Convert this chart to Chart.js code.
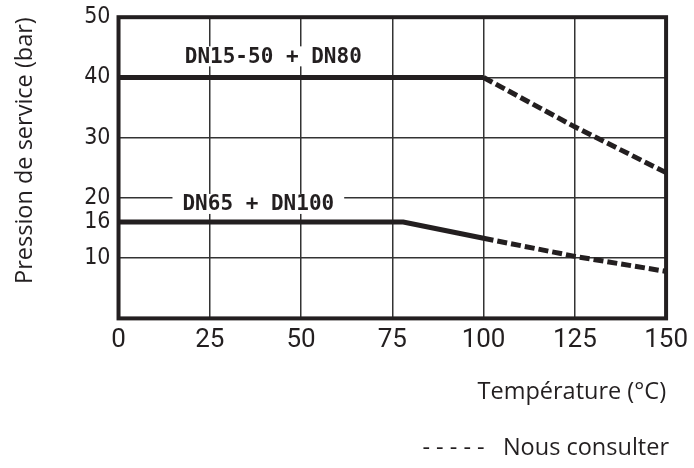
<!DOCTYPE html>
<html>
<head>
<meta charset="utf-8">
<script src="https://cdn.jsdelivr.net/npm/chart.js@4.4.1/dist/chart.umd.min.js"></script>
<style>
  html, body { margin: 0; padding: 0; background: #fff; }
  #wrap { width: 694px; height: 468px; }
</style>
</head>
<body>
<div id="wrap"><canvas id="chart"></canvas></div>
<script>
// temperature (°C) / pressure (bar)
const tempsDN15 = [0, 100, 125, 150];
const pressDN15 = [40, 40, 31.8, 24.2];
const tempsDN65 = [0, 78, 100, 125, 150];
const pressDN65 = [16, 16, 13.3, 10.3, 7.8];
const dashFrom = 100; // beyond this temperature: "Nous consulter"

const xTicks = [0, 25, 50, 75, 100, 125, 150];
const yTicks = [10, 16, 20, 30, 40, 50];

const labelDN15 = "DN15-50 + DN80";
const labelDN65 = "DN65 + DN100";

const ink = "#231f20";

function points(xs, ys) {
    return xs.map((x, i) => ({ x: x, y: ys[i] }));
}

// frame around the plot + the two curve names
const framePlugin = {
    id: "frame",
    beforeDatasetsDraw(chart) {
        const { ctx, chartArea: a, scales } = chart;
        ctx.save();
        ctx.strokeStyle = ink;
        ctx.lineWidth = 4;
        ctx.strokeRect(a.left, a.top, a.right - a.left, a.bottom - a.top);

        ctx.font = "bold 21px 'DejaVu Sans Mono'";
        ctx.textAlign = "center";
        ctx.textBaseline = "middle";
        [[labelDN15, 42.4, 43.5], [labelDN65, 38.3, 19.0]].forEach(([txt, vx, vy]) => {
            const px = scales.x.getPixelForValue(vx);
            const py = scales.y.getPixelForValue(vy);
            const w = ctx.measureText(txt).width + 20;
            ctx.fillStyle = "#fff";
            ctx.fillRect(px - w / 2, py - 10, w, 20);
            ctx.fillStyle = ink;
            ctx.fillText(txt, px, py + 1);
        });
        ctx.restore();
    }
};

const dashed = ctx => ctx.p0.parsed.x >= dashFrom ? [10, 4] : undefined;

new Chart(document.getElementById("chart"), {
    type: "line",
    data: {
        datasets: [{
            label: labelDN15,
            data: points(tempsDN15, pressDN15),
            borderColor: ink,
            borderWidth: 5,
            pointRadius: 0,
            fill: false,
            clip: false,
            segment: { borderDash: dashed }
        }, {
            label: labelDN65,
            data: points(tempsDN65, pressDN65),
            borderColor: ink,
            borderWidth: 5,
            pointRadius: 0,
            fill: false,
            clip: false,
            segment: { borderDash: dashed }
        }]
    },
    options: {
        responsive: true,
        maintainAspectRatio: false,
        animation: false,
        layout: { padding: { left: 11, right: 25, top: 5, bottom: 6 } },
        plugins: {
            legend: { display: false },
            tooltip: { enabled: false },
            subtitle: {
                display: true,
                position: "bottom",
                align: "end",
                text: "- - - - -   Nous consulter",
                color: ink,
                font: { family: "'Open Sans'", size: 23.5, weight: "normal" },
                padding: { top: 0, bottom: 0 }
            }
        },
        scales: {
            x: {
                type: "linear",
                min: 0,
                max: 150,
                afterBuildTicks: s => { s.ticks = xTicks.map(v => ({ value: v })); },
                grid: { color: "#333", lineWidth: 1.5, drawTicks: false },
                border: { display: false },
                ticks: {
                    color: ink,
                    padding: 6,
                    maxRotation: 0,
                    font: { family: "Roboto", size: 26 }
                },
                title: {
                    display: true,
                    text: "Température (°C)",
                    align: "end",
                    color: ink,
                    font: { family: "'Open Sans'", size: 23.5 },
                    padding: { top: 17, bottom: 27 }
                }
            },
            y: {
                type: "linear",
                min: 0,
                max: 50,
                afterBuildTicks: s => { s.ticks = yTicks.map(v => ({ value: v })); },
                grid: {
                    color: c => c.tick && c.tick.value === 16 ? "rgba(0,0,0,0)" : "#333",
                    lineWidth: 1.5,
                    drawTicks: false
                },
                border: { display: false },
                ticks: {
                    color: ink,
                    padding: 8,
                    font: { family: "'DejaVu Sans Condensed'", size: 23, lineHeight: 0.8 }
                },
                title: {
                    display: true,
                    text: "Pression de service (bar)",
                    align: "end",
                    color: ink,
                    font: { family: "'Open Sans'", size: 23.5 },
                    padding: { top: 0, bottom: 37 }
                }
            }
        }
    },
    plugins: [framePlugin]
});
</script>
</body>
</html>
